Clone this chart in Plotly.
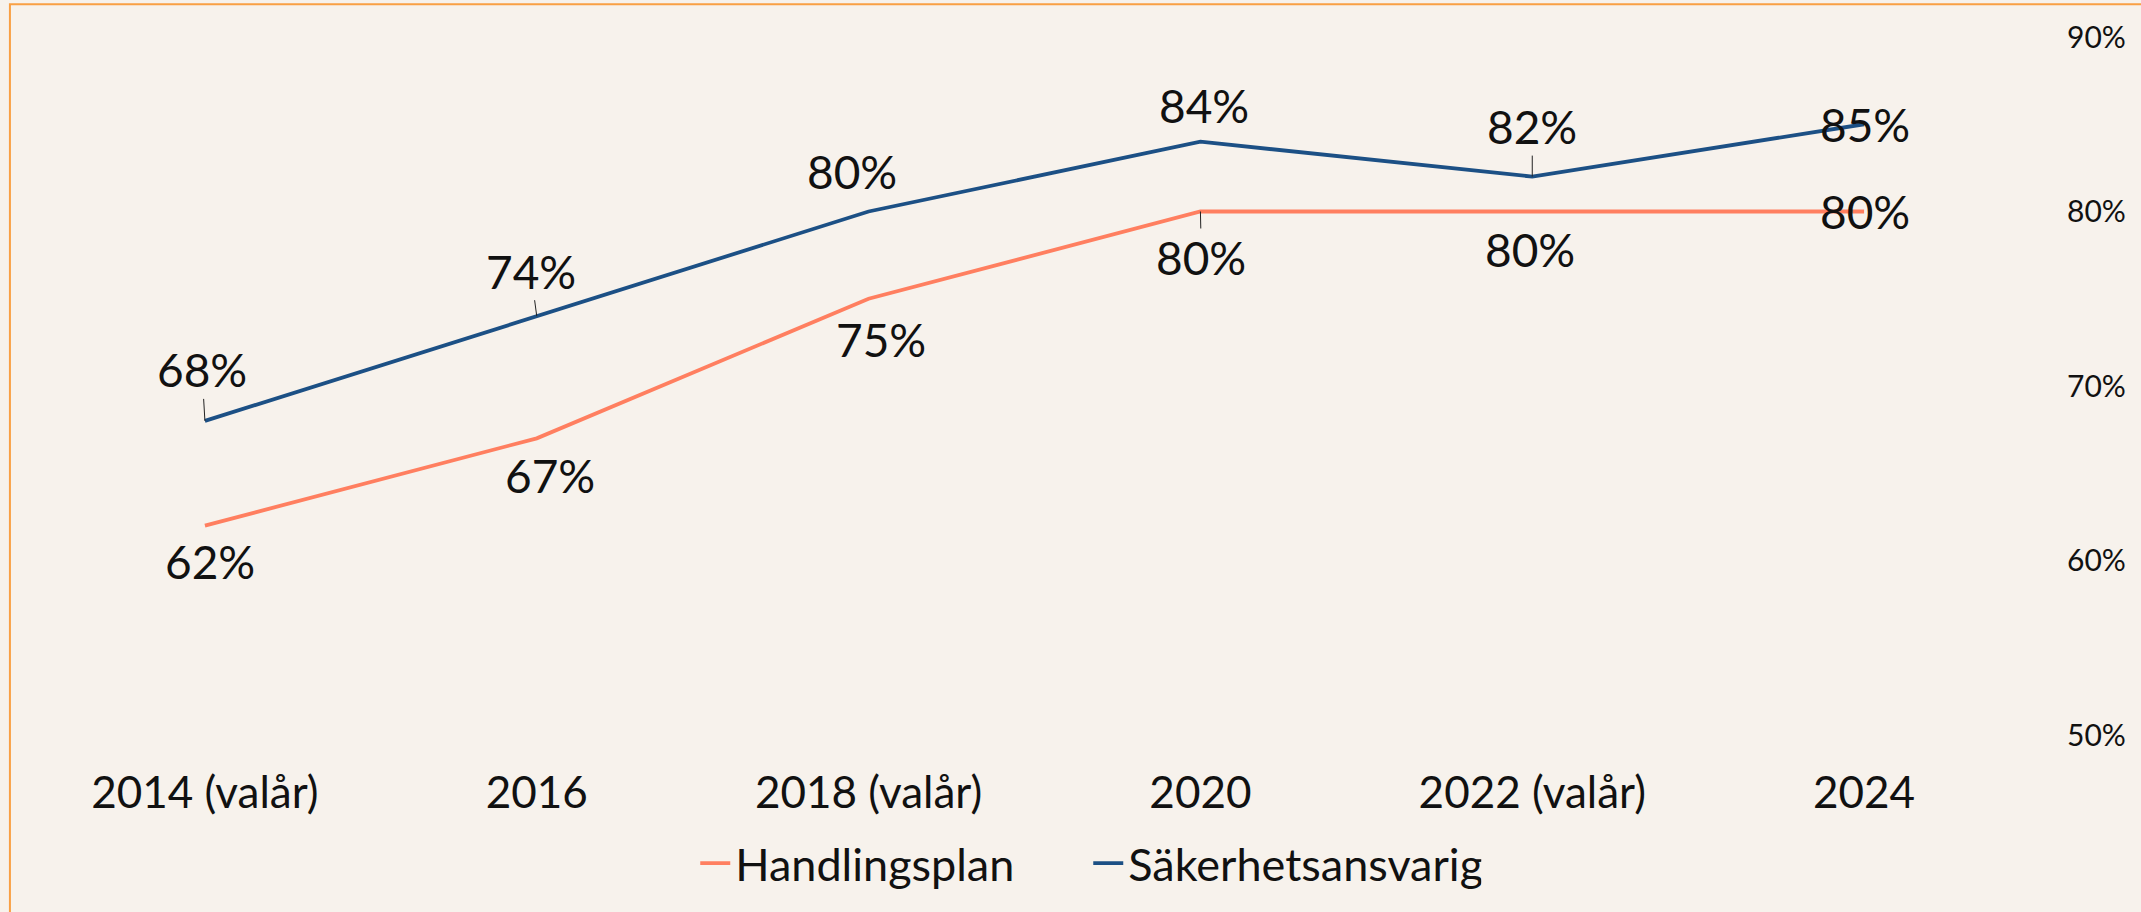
import plotly.graph_objects as go

# ---- data ----
categories = ["2014 (valår)", "2016", "2018 (valår)", "2020", "2022 (valår)", "2024"]
handlingsplan = [0.62, 0.67, 0.75, 0.80, 0.80, 0.80]
sakerhetsansvarig = [0.68, 0.74, 0.80, 0.84, 0.82, 0.85]
y_ticks = [0.5, 0.6, 0.7, 0.8, 0.9]

# ---- label offsets (pixels, +down) and leader-line flags ----
blue_dx = [-3, -6, -17, 4, 0, 1]
blue_dy = [-51, -45, -40, -36, -50, 0]
blue_leader = [True, True, False, False, True, False]
orange_dx = [5, 13, 12, 1, -2, 1]
orange_dy = [36, 37, 41, 46, 38, 0]
orange_leader = [False, False, False, True, False, False]

BLUE = "#1C5085"
ORANGE = "#FF7F60"
BG = "#F7F2EC"
FONT = "Lato, 'Noto Sans', sans-serif"

fig = go.Figure()
fig.add_trace(go.Scatter(x=categories, y=handlingsplan, mode="lines", name="Handlingsplan",
                         line=dict(color=ORANGE, width=3.8)))
fig.add_trace(go.Scatter(x=categories, y=sakerhetsansvarig, mode="lines", name="Säkerhetsansvarig",
                         line=dict(color=BLUE, width=3.8)))

def add_labels(values, dxs, dys, leaders):
    for i, (v, dx, dy, lead) in enumerate(zip(values, dxs, dys, leaders)):
        txt = f"{round(v * 100)}%"
        if lead:
            fig.add_annotation(x=i, y=v, text=txt, showarrow=True, ax=dx, ay=dy,
                               axref="pixel", ayref="pixel", arrowhead=0, arrowwidth=1,
                               arrowcolor="#222222", standoff=0, startstandoff=0,
                               font=dict(family=FONT, size=46, color="#111111"))
        else:
            fig.add_annotation(x=i, y=v, text=txt, showarrow=False, xshift=dx, yshift=-dy,
                               font=dict(family=FONT, size=46, color="#111111"))

add_labels(sakerhetsansvarig, blue_dx, blue_dy, blue_leader)
add_labels(handlingsplan, orange_dx, orange_dy, orange_leader)

# chart border (orange frame)
fig.add_shape(type="rect", xref="paper", yref="paper",
              x0=-0.0146, x1=1.06, y0=-0.26, y1=1.047,
              line=dict(color="#F9A044", width=2), fillcolor="rgba(0,0,0,0)", layer="below")

fig.update_layout(
    width=2141, height=912,
    margin=dict(l=39, r=111, t=37, b=175),
    paper_bgcolor=BG, plot_bgcolor=BG,
    font=dict(family=FONT, color="#111111"),
    showlegend=True,
    legend=dict(orientation="h", x=0.527, xanchor="center", y=-0.184, yanchor="middle",
                font=dict(family=FONT, size=45, color="#111111"), bgcolor="rgba(0,0,0,0)",
                entrywidth=348, entrywidthmode="pixels"),
    xaxis=dict(type="category", range=[-0.5, 5.5], showgrid=False, zeroline=False,
               showline=False, ticks="", tickfont=dict(family=FONT, size=44, color="#111111"),
               ticklabelstandoff=28),
    yaxis=dict(range=[0.5, 0.9], tickvals=y_ticks, tickformat=".0%", side="right",
               showgrid=False, zeroline=False, showline=False,
               ticks="outside", ticklen=30, tickcolor="rgba(0,0,0,0)",
               tickfont=dict(family=FONT, size=30, color="#111111")),
)

fig.write_html("out.html", config={"displayModeBar": False},
               post_script="document.body.style.margin='0';document.body.style.overflow='hidden';")
